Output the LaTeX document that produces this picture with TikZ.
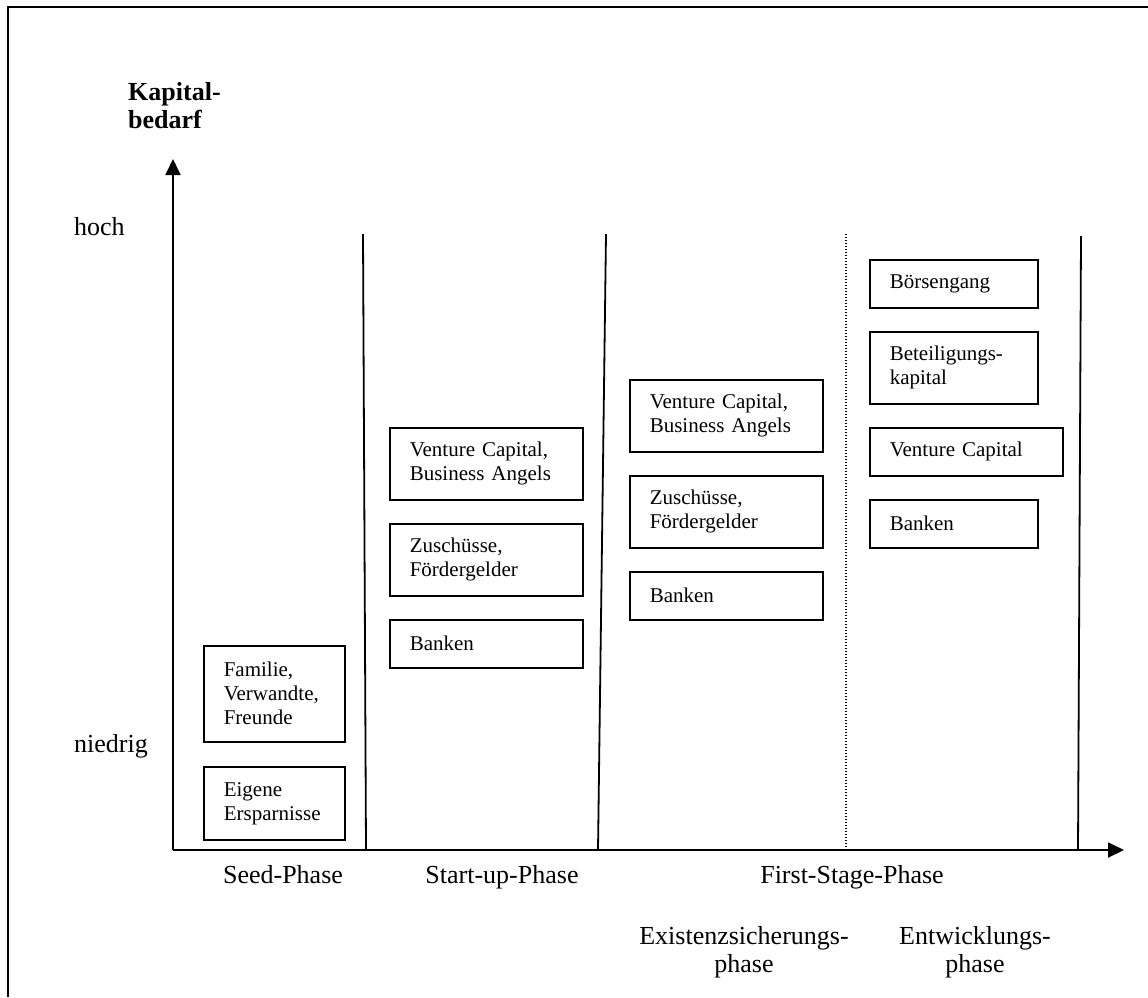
\documentclass[tikz,border=0pt]{standalone}
\usepackage{fontspec}
\setmainfont{Liberation Serif}
\usetikzlibrary{arrows.meta}

\tikzset{
  fundbox/.style={draw, line width=1.6pt, anchor=north west, align=left,
    inner xsep=20pt, inner ysep=3pt, text width=#1,
    font=\fontsize{21}{24}\selectfont},
  axislabel/.style={inner sep=0pt, font=\fontsize{26}{28}\selectfont},
  phaseline/.style={line width=1.8pt},
}

\begin{document}
\begin{tikzpicture}[x=1pt,y=-1pt]
\useasboundingbox (0,0) rectangle (1148,997);

% open frame round the figure
\draw[line width=2.6pt] (8,997) -- (8,7) -- (1148,7);

% axes
\coordinate (origin) at (173,850);
\coordinate (ytip) at (173,159);
\coordinate (xtip) at (1124,850);
\draw[phaseline, -{Triangle[length=16pt,width=15pt]}] (origin) -- (ytip);
\draw[phaseline, -{Triangle[length=16pt,width=15pt]}] (origin) -- (xtip);

% y axis labels
\node[axislabel, font=\bfseries\fontsize{26}{28}\selectfont, anchor=north west, align=left] (kapital) at (128,82) {Kapital-\\bedarf};
\node[axislabel, anchor=base west] (hoch) at (74,235) {hoch};
\node[axislabel, anchor=base west] (niedrig) at (74,752) {niedrig};

% phase borders
\coordinate (seedtop) at (363,234);
\coordinate (seedbot) at (366,850);
\coordinate (starttop) at (606,234);
\coordinate (startbot) at (598,850);
\coordinate (firsttop) at (1081,236);
\coordinate (firstbot) at (1078,850);
\coordinate (splittop) at (846,234);
\coordinate (splitbot) at (846,850);
\draw[phaseline] (seedtop) -- (seedbot);
\draw[phaseline] (starttop) -- (startbot);
\draw[phaseline] (firsttop) -- (firstbot);
\draw[line width=1.2pt, dash pattern=on 1.2pt off 1.8pt] (splittop) -- (splitbot);

% Seed-Phase
\node[fundbox=101pt, minimum height=96pt] (familie) at (203,645) {Familie,\\Verwandte,\\Freunde};
\node[fundbox=101pt, minimum height=73pt] (eigene) at (203,766) {Eigene\\Ersparnisse};

% Start-up-Phase
\node[fundbox=153pt, minimum height=72pt] (vcstart) at (389,427) {Venture Capital,\\Business Angels};
\node[fundbox=153pt, minimum height=72pt] (zustart) at (389,523) {Zuschüsse,\\Fördergelder};
\node[fundbox=153pt, minimum height=48pt] (bankstart) at (389,619) {Banken};

% First-Stage-Phase, Existenzsicherung
\node[fundbox=153pt, minimum height=72pt] (vcexist) at (629,379) {Venture Capital,\\Business Angels};
\node[fundbox=153pt, minimum height=72pt] (zuexist) at (629,475) {Zuschüsse,\\Fördergelder};
\node[fundbox=153pt, minimum height=48pt] (bankexist) at (629,571) {Banken};

% First-Stage-Phase, Entwicklung
\node[fundbox=128pt, minimum height=48pt] (boerse) at (869,259) {Börsengang};
\node[fundbox=128pt, minimum height=72pt] (beteil) at (869,331) {Beteiligungs-\\kapital};
\node[fundbox=153pt, minimum height=48pt] (vcentw) at (869,427) {Venture Capital};
\node[fundbox=128pt, minimum height=48pt] (bankentw) at (869,499) {Banken};

% x axis labels
\node[axislabel, anchor=base] (seed) at (283,883) {Seed-Phase};
\node[axislabel, anchor=base] (startup) at (502,883) {Start-up-Phase};
\node[axislabel, anchor=base] (firststage) at (852,883) {First-Stage-Phase};
\node[axislabel, anchor=north, align=center] (existenz) at (744,926) {Existenzsicherungs-\\phase};
\node[axislabel, anchor=north, align=center] (entwicklung) at (975,926) {Entwicklungs-\\phase};

\end{tikzpicture}
\end{document}
